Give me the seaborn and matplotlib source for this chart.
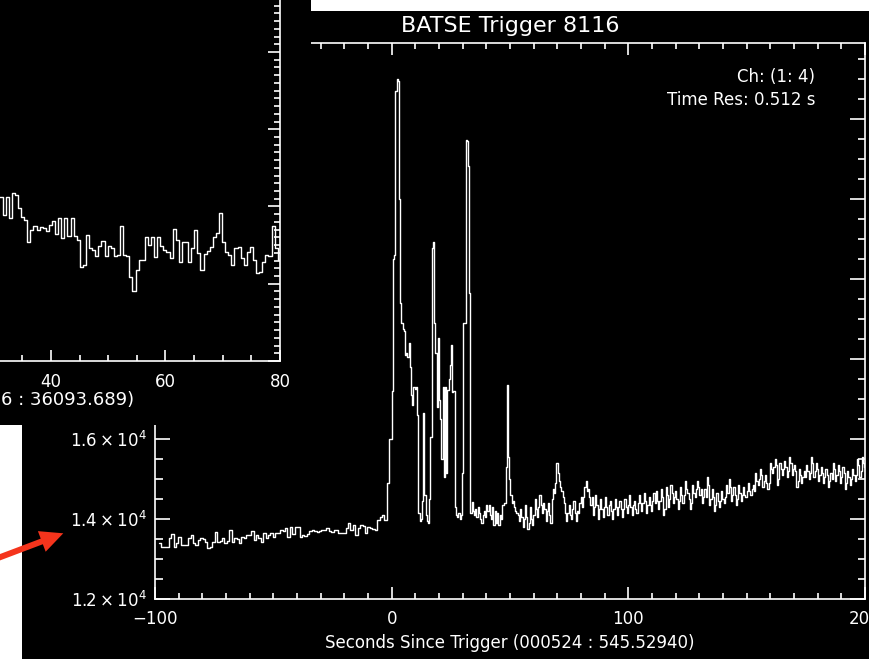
import numpy as np
import pandas as pd
import matplotlib
matplotlib.use("Agg")
import matplotlib.pyplot as plt
import seaborn as sns
from matplotlib.ticker import MultipleLocator, FixedLocator, FuncFormatter
from matplotlib.patches import Rectangle, FancyArrow

# ---------------------------------------------------------------------------
# BATSE trigger 8116, channels 1-4 summed
# ---------------------------------------------------------------------------
# pre-trigger background, 1.024 s bins starting at -98.304 s
pre_start, pre_dt = -98.304, 1.024
pre_counts = [
    13390, 13310, 13300, 13310, 13520, 13620, 13310, 13390, 13560, 13350,
    13360, 13350, 13520, 13600, 13400, 13350, 13480, 13520, 13500, 13430,
    13270, 13300, 13430, 13680, 13430, 13450, 13520, 13390, 13450, 13720,
    13430, 13520, 13500, 13390, 13560, 13520, 13600, 13600, 13700, 13480,
    13600, 13520, 13430, 13640, 13520, 13600, 13640, 13560, 13640, 13650,
    13720, 13700, 13770, 13560, 13810, 13620, 13800, 13790, 13550, 13600,
    13580, 13620, 13690, 13720, 13700, 13680, 13700, 13730, 13720, 13770,
    13690, 13680, 13720, 13730, 13640, 13650, 13640, 13770, 13890, 13730,
    13850, 13600, 13780, 13860, 13830, 13640, 13810, 13780, 13750, 13720,
    13970, 14050, 14100, 13980, 14900, 16000,
]

# burst, 0.512 s bins starting at the trigger
burst_dt = 0.512
burst_counts = [
    17200, 20500, 20600, 24700, 25000, 24950, 22000, 19400, 18900, 18750,
    18700, 18100, 18150, 18050, 18400, 17800, 17100, 16850, 17300, 17250,
    17300, 16600, 14150, 13950, 14000, 14450, 16650, 14600, 14100, 13950,
    13900, 14500, 16050, 20780, 20920, 18900, 18150, 16800, 18525, 16975,
    16500, 15500, 17300, 15050, 17300, 15150, 17225, 17500, 17850, 18350,
    17175, 17200, 14300, 14100, 14050, 14150, 14000, 14100, 15150, 18900,
    18900, 23475, 23450, 22825, 19650, 14150, 14425, 14200, 14100, 14250,
    14050, 14300, 14150, 14000, 13900, 14100, 14200, 14050, 14350, 14200,
    14350, 14100, 14000, 14300, 13850, 14200, 13900, 14150, 13850, 14100,
    14000, 14350, 14350, 14400, 15300, 17350, 15550, 15000, 14600, 14400,
    14450, 14300, 14200, 14150, 14100, 13950,
]

# post-burst tail, 0.512 s bins
tail_dt = 0.512
tail_counts = [
    14250, 14050, 13800, 14000, 14350, 14050, 13750, 13900, 14300, 14000,
    13850, 14100, 14500, 14250, 14050, 14300, 14600, 14350, 14150, 14400,
    14250, 13950, 14200, 14400, 14100, 13900, 14500, 14750, 14650, 14900,
    15400, 15150, 14950, 14800, 14700, 14550, 14400, 14150, 13950, 14150,
    14350, 14100, 14000, 14250, 14450, 14150, 13950, 14200, 14150, 14400,
    14550, 14300, 14550, 14800, 14950, 14700, 14750, 14550, 14350, 14550,
    14100, 14300, 14600, 14350, 14000, 14250, 14500, 14250, 14050, 14300,
    14550, 14300, 14100, 14350, 14450, 14200, 14000, 14250, 14500, 14300,
    14100, 14300, 14450, 14250, 14050, 14250, 14500, 14300, 14150, 14350,
    14600, 14300, 14100, 14350, 14450, 14250, 14150, 14400, 14600, 14400,
    14200, 14400, 14650, 14450, 14150, 14350, 14550, 14350, 14200, 14450,
    14650, 14400, 14700, 14450, 14250, 14450, 14750, 14550, 14100, 14250,
    14800, 14600, 14300, 14500, 14850, 14650, 14400, 14550, 14700, 14500,
    14250, 14450, 14800, 14600, 14400, 14600, 14950, 14750, 14650, 14500,
    14250, 14400, 14850, 14650, 14550, 14750, 14950, 14800, 14600, 14750,
    14400, 14550, 14750, 14550, 15050, 14850, 14350, 14500, 14750, 14550,
    14200, 14350, 14650, 14450, 14300, 14450, 14700, 14500, 14400, 14550,
    14850, 14650, 15000, 14800, 14450, 14600, 14800, 14600, 14350, 14500,
    14850, 14650, 14450, 14600, 14800, 14600, 14550, 14700, 14900, 14700,
    14600, 14750, 14850, 14700, 15150, 14950, 14850, 15000, 15250, 15100,
    14800, 14950, 15100, 14900, 14750, 14900, 15400, 15250, 15150, 15300,
    15500, 15350, 14850, 15000, 15400, 15250, 15100, 15250, 15450, 15300,
    15050, 15200, 15550, 15400, 15100, 15250, 15350, 15200, 14800, 14950,
    15250, 15100, 14900, 15050, 15200, 15050, 15350, 15200, 15000, 15150,
    15550, 15400, 15050, 15200, 15400, 15250, 14950, 15100, 15300, 15150,
    14900, 15050, 15250, 15100, 14800, 14950, 15150, 15000, 15400, 15250,
    14950, 15100, 15350, 15200, 14900, 15050, 15300, 15150, 14750, 14900,
    15200, 15050, 14850, 15000, 15250, 15100, 14950, 15100, 15500, 15350,
    15050, 15200, 15550, 15400, 15300, 15200,
]

# earlier light curve shown in the upper-left window, 0.54 s bins
old_start, old_dt = 31.0, 0.54
old_counts = [
    13120, 12890, 13120, 12850, 13170, 13150, 12980, 12860, 12830, 12540,
    12700, 12750, 12700, 12730, 12720, 12680, 12760, 12810, 12640, 12850,
    12590, 12850, 12620, 12850, 12620, 12570, 12220, 12240, 12630, 12460,
    12440, 12360, 12490, 12550, 12360, 12490, 12460, 12360, 12370, 12750,
    12370, 12360, 12090, 11910, 12180, 12310, 12310, 12600, 12500, 12600,
    12350, 12600, 12490, 12440, 12410, 12330, 12710, 12570, 12280, 12540,
    12540, 12280, 12460, 12700, 12400, 12180, 12380, 12420, 12480, 12600,
    12660, 12920, 12540, 12410, 12370, 12240, 12460, 12480, 12330, 12240,
    12410, 12480, 12310, 12140, 12150, 12280, 12370, 12360, 12750, 12460,
    12310,
]

title = "BATSE Trigger 8116"
xlabel = "Seconds Since Trigger (000524 : 545.52940)"
info_lines = ["Ch: (1: 4)", "Time Res: 0.512 s"]
old_xlabel_tail = "6 : 36093.689)"

# ---------------------------------------------------------------------------
sns.set_style("ticks")
plt.rcParams["font.family"] = ["DejaVu Sans"]
plt.rcParams["axes.unicode_minus"] = True

W, H = 870, 659
fig = plt.figure(figsize=(W / 100, H / 100), dpi=100, facecolor="black")


def px_axes(left, top, right, bottom):
    """Axes rectangle given in pixel edges measured from the top-left."""
    return [left / W, 1 - bottom / H, (right - left) / W, (bottom - top) / H]


def step_frame(start, widths, counts):
    edges = start + np.concatenate([[0.0], np.cumsum(widths)])
    t = np.append(edges[:-1], edges[-1])
    c = np.append(counts, counts[-1])
    return pd.DataFrame({"t": t, "counts": c})


# ---- main light curve -----------------------------------------------------
widths = np.concatenate([
    np.full(len(pre_counts), pre_dt),
    np.full(len(burst_counts), burst_dt),
    np.full(len(tail_counts), tail_dt),
])
counts = np.concatenate([pre_counts, burst_counts, tail_counts]).astype(float)
main_df = step_frame(pre_start, widths, counts)

ax = fig.add_axes(px_axes(155, 43, 865, 599))
ax.set_facecolor("black")
sns.lineplot(data=main_df, x="t", y="counts", ax=ax, drawstyle="steps-post",
             estimator=None, color="white", lw=1.0)
ax.set_xlim(-100, 200)
ax.set_ylim(12000, 25900)
ax.xaxis.set_major_locator(MultipleLocator(100))
ax.xaxis.set_minor_locator(MultipleLocator(10))
ax.yaxis.set_major_locator(MultipleLocator(2000))
ax.yaxis.set_minor_locator(MultipleLocator(500))
ax.yaxis.set_major_formatter(
    FuncFormatter(lambda v, p: rf"${v / 1e4:.1f}\times10^{{4}}$"))
for s in ax.spines.values():
    s.set_color("white")
    s.set_linewidth(1.2)
ax.tick_params(which="both", direction="in", top=True, right=True,
               colors="white", width=1.2, labelsize=12)
ax.tick_params(axis="x", which="major", length=8.5, pad=8)
ax.tick_params(axis="x", which="minor", length=4.3)
ax.tick_params(axis="y", which="major", length=10.8, pad=6)
ax.tick_params(axis="y", which="minor", length=5.4)
ax.set_title(title, color="white", fontsize=16, pad=8)
ax.set_xlabel(xlabel, color="white", fontsize=12, labelpad=4)
ax.set_ylabel("")
ax.text(0.9296, 0.9388, info_lines[0], transform=ax.transAxes, ha="right",
        va="center", color="white", fontsize=12)
ax.text(0.9296, 0.8975, info_lines[1], transform=ax.transAxes, ha="right",
        va="center", color="white", fontsize=12)
ax.set_zorder(1)

# ---- window with the earlier light curve ----------------------------------
win = fig.add_axes(px_axes(0, 0, 311, 425))
win.set_facecolor("black")
win.set_xticks([])
win.set_yticks([])
for s in win.spines.values():
    s.set_visible(False)
win.set_zorder(2)

old = fig.add_axes(px_axes(-63.5, -20, 280, 361))
old.set_facecolor("none")
old_df = step_frame(old_start, np.full(len(old_counts), old_dt),
                    np.asarray(old_counts, float))
sns.lineplot(data=old_df, x="t", y="counts", ax=old, drawstyle="steps-post",
             estimator=None, color="white", lw=1.0)
old.set_xlim(20, 80)
old.set_ylim(11000, 11000 + 381 / 0.07725)
old.xaxis.set_major_locator(FixedLocator([40, 60, 80]))
old.xaxis.set_minor_locator(MultipleLocator(5))
old.yaxis.set_major_locator(MultipleLocator(1000))
old.yaxis.set_minor_locator(MultipleLocator(100))
old.spines["top"].set_visible(False)
old.spines["left"].set_visible(False)
for side in ("right", "bottom"):
    old.spines[side].set_color("white")
    old.spines[side].set_linewidth(1.2)
old.tick_params(which="both", direction="in", colors="white", width=1.2,
                left=False, right=True, labelleft=False, labelright=False,
                labelsize=12)
old.tick_params(axis="x", which="major", length=8, pad=9)
old.tick_params(axis="x", which="minor", length=4.3)
old.tick_params(axis="y", which="major", length=9)
old.tick_params(axis="y", which="minor", length=4.5)
old.set_xlabel("")
old.set_ylabel("")
old.set_zorder(3)

# ---- overlay: paper edges, label fragment and pointer arrow ---------------
ov = fig.add_axes([0, 0, 1, 1])
ov.set_xlim(0, W)
ov.set_ylim(H, 0)
ov.axis("off")
ov.patch.set_visible(False)
ov.set_zorder(10)
ov.add_patch(Rectangle((311, 0), W - 311, 11, color="white", lw=0))
ov.add_patch(Rectangle((0, 425), 22, H - 425, color="white", lw=0))
ov.text(1, 400, old_xlabel_tail, ha="left", va="center", color="white",
        fontsize=13)
ov.add_patch(FancyArrow(-10, 561, 73.3, -27.7, width=6, head_width=22,
                        head_length=23, length_includes_head=True,
                        color="#f5341c", lw=0))

fig.savefig("out.png", dpi=100, facecolor="black")
